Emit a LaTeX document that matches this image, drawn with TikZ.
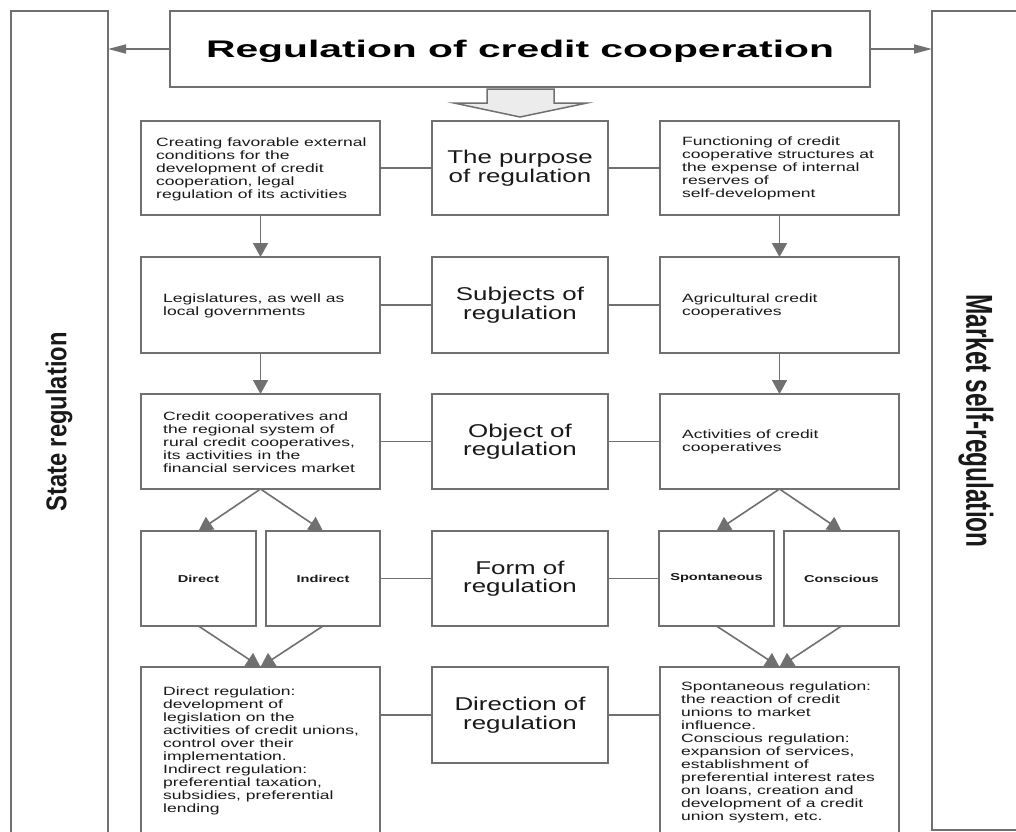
\documentclass[tikz,border=0pt]{standalone}
\usepackage{fontspec}
\setmainfont{Liberation Sans}
\newfontfamily\titlef{Liberation Sans}[FakeStretch=1.7]
\newfontfamily\midf{Liberation Sans}[FakeStretch=1.4]
\newfontfamily\smf{Liberation Sans}[FakeStretch=1.46]
\newfontfamily\statef{Liberation Sans}[FakeStretch=0.83]
\newfontfamily\marketf{Liberation Sans}[FakeStretch=0.65]
\usetikzlibrary{arrows.meta}
\definecolor{linec}{RGB}{112,112,112}
\definecolor{txtc}{RGB}{25,25,25}
\definecolor{arrfill}{RGB}{236,236,236}
\tikzset{
  box/.style={draw=linec, line width=1.8pt, inner sep=0pt, outer sep=0pt, fill=white},
  midlabel/.style={box, align=center, text=txtc, font=\midf\fontsize{18.5}{18.5}\selectfont},
  smalltxt/.style={anchor=west, align=left, inner sep=0pt, text=txtc, font=\smf\fontsize{12}{13}\selectfont},
  formtxt/.style={box, text=txtc, font=\smf\bfseries\fontsize{10}{11}\selectfont},
  link/.style={draw=linec, line width=1.6pt},
  arr/.style={draw=linec, line width=1.6pt, -{Triangle[width=15pt,length=14pt]}},
  sidearr/.style={draw=linec, line width=1.6pt, -{Triangle[width=9pt,length=18pt]}},
}
\begin{document}
\begin{tikzpicture}[x=1pt,y=-1pt]
\useasboundingbox (0,0) rectangle (1016,831);
\clip (0,0) rectangle (1016,831);
\fill[white] (0,0) rectangle (1016,831);

% side frames
\node[box, minimum width=97pt, minimum height=834pt] (Ltall) at (59.5,428) {};
\node[box, minimum width=108pt, minimum height=819pt] (Rtall) at (986,420.5) {};
\node[rotate=90, text=txtc, inner sep=0pt, font=\statef\bfseries\fontsize{28.6}{30}\selectfont] (Ltxt) at (59,422) {State regulation};
\node[rotate=-90, text=txtc, inner sep=0pt, font=\marketf\bfseries\fontsize{37.5}{39}\selectfont] (Rtxt) at (976,421) {Market self-regulation};

% title
\node[box, minimum width=700pt, minimum height=76pt] (T) at (520,49) {};
\node[anchor=base, inner sep=0pt, text=black, font=\titlef\bfseries\fontsize{24}{26}\selectfont] (Tt) at (520,57.7) {Regulation of credit cooperation};
\draw[sidearr] (T.west) -- (T.west -| Ltall.east);
\draw[sidearr] (T.east) -- (T.east -| Rtall.west);

% block arrow
\draw[draw=linec, line width=1.5pt, fill=arrfill, line join=miter]
  (487,89) -- (554,89) -- (554,103) -- (587,103) -- (520,117) -- (454,103) -- (487,103) -- cycle;

% row 1
\node[box, minimum width=239pt, minimum height=94pt] (L1) at (260.5,168) {};
\node[midlabel, minimum width=176pt, minimum height=94pt] (C1) at (520,168) {The purpose\\of regulation};
\node[box, minimum width=239pt, minimum height=94pt] (R1) at (779.5,168) {};
\node[smalltxt] (L1t) at (156,169) {Creating favorable external\\conditions for the\\development of credit\\cooperation, legal\\regulation of its activities};
\node[smalltxt] (R1t) at (682,168) {Functioning of credit\\cooperative structures at\\the expense of internal\\reserves of\\self-development};

% row 2
\node[box, minimum width=239pt, minimum height=96pt] (L2) at (260.5,305) {};
\node[midlabel, minimum width=176pt, minimum height=96pt] (C2) at (520,305) {Subjects of\\regulation};
\node[box, minimum width=239pt, minimum height=96pt] (R2) at (779.5,305) {};
\node[smalltxt] (L2t) at (163,306) {Legislatures, as well as\\local governments};
\node[smalltxt] (R2t) at (682,306) {Agricultural credit\\cooperatives};

% row 3
\node[box, minimum width=239pt, minimum height=95pt] (L3) at (260.5,441.5) {};
\node[midlabel, minimum width=176pt, minimum height=95pt] (C3) at (520,441.5) {Object of\\regulation};
\node[box, minimum width=239pt, minimum height=95pt] (R3) at (779.5,441.5) {};
\node[smalltxt] (L3t) at (163,442) {Credit cooperatives and\\the regional system of\\rural credit cooperatives,\\its activities in the\\financial services market};
\node[smalltxt] (R3t) at (682,442) {Activities of credit\\cooperatives};

% row 4
\node[formtxt, minimum width=115pt, minimum height=95pt] (D) at (198.5,578.5) {Direct};
\node[formtxt, minimum width=114pt, minimum height=95pt] (I) at (323,578.5) {Indirect};
\node[midlabel, minimum width=176pt, minimum height=95pt] (C4) at (520,578.5) {Form of\\regulation};
\node[formtxt, minimum width=115pt, minimum height=95pt] (Sp) at (716.5,578.5) {Spontaneous};
\node[formtxt, minimum width=115pt, minimum height=95pt] (Co) at (841.5,578.5) {Conscious};

% row 5
\node[box, minimum width=239pt, minimum height=178pt] (L5) at (260.5,756) {};
\node[midlabel, minimum width=176pt, minimum height=96pt] (C5) at (520,715) {Direction of\\regulation};
\node[box, minimum width=239pt, minimum height=178pt] (R5) at (779.5,756) {};
\node[smalltxt] (L5t) at (163,751) {Direct regulation:\\development of\\legislation on the\\activities of credit unions,\\control over their\\implementation.\\Indirect regulation:\\preferential taxation,\\subsidies, preferential\\lending};
\node[smalltxt] (R5t) at (681,752) {Spontaneous regulation:\\the reaction of credit\\unions to market\\influence.\\Conscious regulation:\\expansion of services,\\establishment of\\preferential interest rates\\on loans, creation and\\development of a credit\\union system, etc.};

% horizontal links
\draw[link] (L1.east) -- (C1.west);
\draw[link] (C1.east) -- (R1.west);
\draw[link] (L2.east) -- (C2.west);
\draw[link] (C2.east) -- (R2.west);
\draw[link] (L3.east) -- (C3.west);
\draw[link] (C3.east) -- (R3.west);
\draw[link] (I.east) -- (C4.west);
\draw[link] (C4.east) -- (Sp.west);
\draw[link] (C5.west -| L5.east) -- (C5.west);
\draw[link] (C5.east) -- (C5.east -| R5.west);

% vertical arrows
\draw[arr] (L1.south) -- (L2.north);
\draw[arr] (R1.south) -- (R2.north);
\draw[arr] (L2.south) -- (L3.north);
\draw[arr] (R2.south) -- (R3.north);
\draw[arr] (L3.south) -- (D.north);
\draw[arr] (L3.south) -- (I.north);
\draw[arr] (R3.south) -- (Sp.north);
\draw[arr] (R3.south) -- (Co.north);
\draw[arr] (D.south) -- (L5.north);
\draw[arr] (I.south) -- (L5.north);
\draw[arr] (Sp.south) -- (R5.north);
\draw[arr] (Co.south) -- (R5.north);
\end{tikzpicture}
\end{document}
